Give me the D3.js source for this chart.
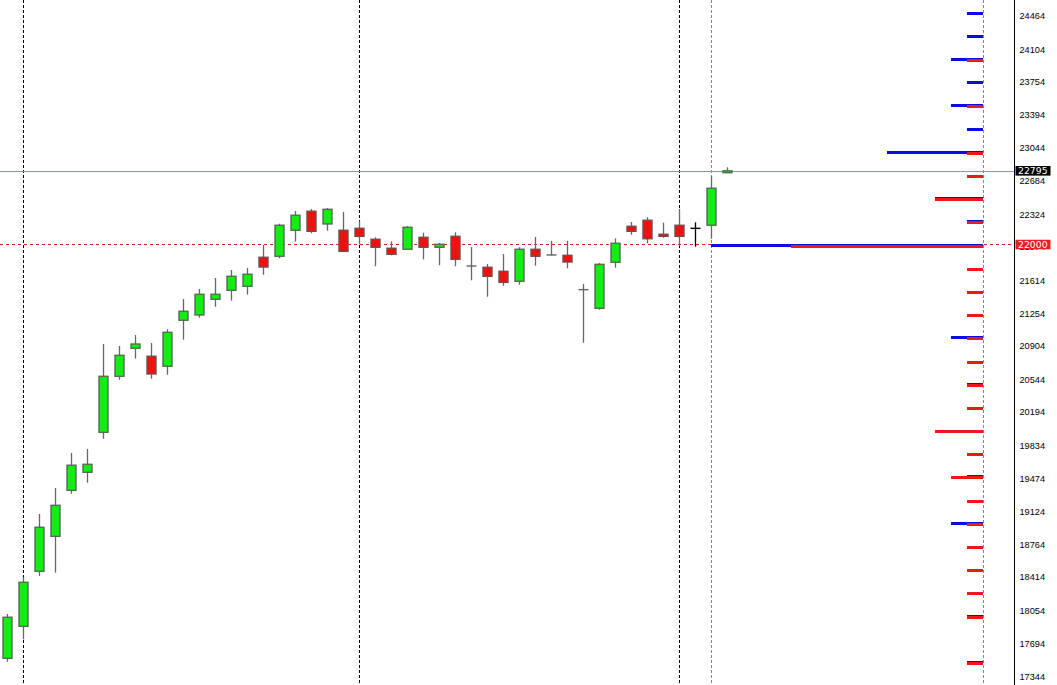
<!DOCTYPE html>
<html>
<head>
<meta charset="utf-8">
<script src="https://cdn.jsdelivr.net/npm/d3@7"></script>
<style>
  html, body { margin: 0; padding: 0; background: #fff; overflow: hidden; }
  svg { display: block; }
</style>
</head>
<body>
<svg id="chart" width="1057" height="685"></svg>
<script>
// ---------- DATA ----------
const opens  = [17540,17885,18478,18855,19351,19545,19976,20580,20882,20796,20688,21184,21241,21410,21507,21550,21863,21874,22154,22359,22222,22154,22175,22057,21960,21949,22078,21971,22089,21769,21755,21712,21604,21949,21888,21884,21514,21313,21809,22197,22262,22111,22208,22175,22208,22775];
const highs  = [18018,18413,19096,19376,19753,19796,20928,20907,21025,20939,21087,21413,21521,21640,21726,21747,21995,22225,22362,22383,22394,22351,22254,22078,22035,22200,22128,22017,22132,21974,21791,21898,21971,22082,22039,22039,21575,21801,22068,22243,22294,22236,22384,22240,22739,22833];
const lows   = [17503,17745,18427,18463,19314,19433,19907,20543,20770,20554,20597,20975,21212,21330,21395,21460,21675,21852,22031,22122,22150,21927,22003,21766,21884,21949,21841,21777,21766,21615,21438,21557,21567,21772,21885,21744,20942,21298,21751,22106,22014,22074,21985,21977,22063,22770];
const closes = [17982,18359,18952,19189,19621,19631,20580,20806,20928,20605,21054,21281,21464,21464,21658,21680,21758,22208,22316,22143,22380,21927,22089,21971,21895,22186,21971,22003,21841,21769,21658,21593,21949,21874,21888,21812,21514,21787,22014,22143,22063,22089,22089,22175,22607,22795];

const separatorBars = [1, 22, 42];   // period separators (black dashed)
const currentBar = 44;               // grey dashed marker
const crossBar = 43;                 // black cross bar

const strikes = [24500,24250,24000,23750,23500,23250,23000,22750,22500,22250,22000,21750,21500,21250,21000,20750,20500,20250,20000,19750,19500,19250,19000,18750,18500,18250,18000,17750,17500];
const callOI  = [1,1,2,1,2,1,6,0,3,1,17,0,0,0,2,0,1,0,0,0,1,0,2,0,0,0,1,0,1];
const putOI   = [0,0,1,0,1,0,1,1,3,1,12,1,1,1,1,1,1,1,3,1,2,1,1,1,1,1,1,0,1];

const tickLabels = [24464,24104,23754,23394,23044,22684,22324,21974,21614,21254,20904,20544,20194,19834,19474,19124,18764,18414,18054,17694,17344];
const currentPrice = 22795;
const levelPrice = 22000;

// ---------- LAYOUT ----------
const W = 1057, H = 685;
const axisX = 1014.5;
const oiRight = 983;

const svg = d3.select("#chart");

const y = d3.scaleLinear().domain([17252, 24636.5]).range([H, 0]);
const x = d3.scaleLinear().domain([0, 45]).range([6.7, 726.7]);
const oiLen = d3.scaleLinear().domain([0, 17]).range([0, 272]);

const candles = opens.map((o, i) => ({ i, o, h: highs[i], l: lows[i], c: closes[i] }));

// vertical separators
svg.append("g").selectAll("line").data(separatorBars).join("line")
  .attr("x1", d => Math.round(x(d)) + 0.5).attr("x2", d => Math.round(x(d)) + 0.5)
  .attr("y1", 0).attr("y2", H)
  .attr("stroke", "#000").attr("stroke-width", 1).attr("stroke-dasharray", "3,2");

// current bar marker & OI baseline
svg.append("g").selectAll("line").data([x(currentBar), oiRight - 0.5]).join("line")
  .attr("x1", d => Math.round(d) + 0.5).attr("x2", d => Math.round(d) + 0.5)
  .attr("y1", 0).attr("y2", H)
  .attr("stroke", "#888").attr("stroke-width", 1).attr("stroke-dasharray", "3,2");

// horizontal level line (22000)
svg.append("line")
  .attr("x1", 0).attr("x2", axisX - 2)
  .attr("y1", Math.round(y(levelPrice)) - 0.5).attr("y2", Math.round(y(levelPrice)) - 0.5)
  .attr("stroke", "#e01818").attr("stroke-width", 1).attr("stroke-dasharray", "3,3");

// current price line
svg.append("line")
  .attr("x1", 0).attr("x2", axisX)
  .attr("y1", Math.round(y(currentPrice)) + 0.5).attr("y2", Math.round(y(currentPrice)) + 0.5)
  .attr("stroke", "#8a959c").attr("stroke-width", 1);

// candles
const cg = svg.append("g");
cg.selectAll("line.wick").data(candles).join("line")
  .attr("class", "wick")
  .attr("x1", d => Math.round(x(d.i)) + 0.5).attr("x2", d => Math.round(x(d.i)) + 0.5)
  .attr("y1", d => y(d.h)).attr("y2", d => y(d.l))
  .attr("stroke", d => d.i === crossBar ? "#000" : "#666").attr("stroke-width", 1.3);

const bodies = candles.filter(d => d.o !== d.c);
cg.selectAll("rect.body").data(bodies).join("rect")
  .attr("class", "body")
  .attr("x", d => Math.round(x(d.i)) - 4)
  .attr("width", 9)
  .attr("y", d => y(Math.max(d.o, d.c)))
  .attr("height", d => Math.max(1, Math.abs(y(d.o) - y(d.c))))
  .attr("fill", d => d.c > d.o ? "#11ee11" : "#ee1111")
  .attr("stroke", d => d.c > d.o ? "#4f7050" : "#7a4a4a")
  .attr("stroke-width", 1.4);

const dojis = candles.filter(d => d.o === d.c);
cg.selectAll("line.doji").data(dojis).join("line")
  .attr("class", "doji")
  .attr("x1", d => Math.round(x(d.i)) - 4.5).attr("x2", d => Math.round(x(d.i)) + 5.5)
  .attr("y1", d => y(d.o)).attr("y2", d => y(d.o))
  .attr("stroke", d => d.i === crossBar ? "#000" : "#666").attr("stroke-width", 1.4);

// OI bars
const oi = strikes.map((s, i) => ({ s, call: callOI[i], put: putOI[i] }));
const og = svg.append("g");
og.selectAll("rect.call").data(oi.filter(d => d.call > 0)).join("rect")
  .attr("class", "call")
  .attr("x", d => oiRight - oiLen(d.call)).attr("width", d => oiLen(d.call))
  .attr("y", d => Math.round(y(d.s)) - 1).attr("height", 3)
  .attr("fill", "#0b0be0");
og.selectAll("rect.put").data(oi.filter(d => d.put > 0)).join("rect")
  .attr("class", "put")
  .attr("x", d => oiRight - oiLen(d.put)).attr("width", d => oiLen(d.put))
  .attr("y", d => Math.round(y(d.s))).attr("height", 3)
  .attr("fill", "#ee1818");

// axis
svg.append("line")
  .attr("x1", axisX).attr("x2", axisX).attr("y1", 0).attr("y2", H)
  .attr("stroke", "#000").attr("stroke-width", 1);

svg.append("g").selectAll("text").data(tickLabels).join("text")
  .attr("x", axisX + 5).attr("y", d => y(d))
  .attr("dy", "0.35em")
  .attr("font-family", "'Liberation Sans', Arial, sans-serif")
  .attr("font-size", 9.2)
  .attr("fill", "#000")
  .text(d => d);

// price boxes
function priceBox(v, fill) {
  const cy = y(v);
  svg.append("rect").attr("x", axisX + 1).attr("y", cy - 4.8).attr("width", 35).attr("height", 9.6).attr("fill", fill);
  svg.append("text").attr("x", axisX + 3.5).attr("y", cy).attr("dy", "0.36em")
    .attr("font-family", "'DejaVu Sans', sans-serif").attr("font-size", 9.3)
    .attr("fill", "#fff").text(v);
}
priceBox(currentPrice, "#000");
priceBox(levelPrice, "#ee1c24");
</script>
</body>
</html>
